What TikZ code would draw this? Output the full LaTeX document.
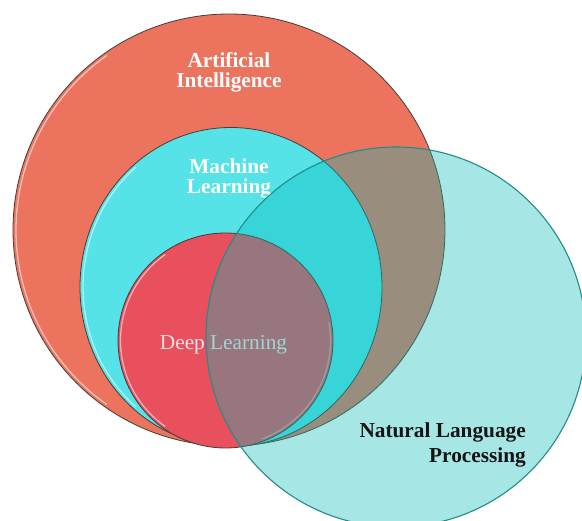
\documentclass[tikz,border=0pt]{standalone}
\usepackage{fontspec}
\setmainfont{Liberation Serif}
\definecolor{aiF}{RGB}{236,116,95}
\definecolor{mlF}{RGB}{85,227,232}
\definecolor{dlF}{RGB}{232,80,94}
\definecolor{nlpF}{RGB}{0,189,184}
\definecolor{nlpD}{RGB}{35,140,135}
\definecolor{rim}{RGB}{70,60,55}
\definecolor{dlT}{RGB}{250,226,230}
\tikzset{
  setrim/.style={draw=rim, line width=0.8pt},
  shine/.style={draw=white, line width=1.3pt, opacity=0.55},
  lbl/.style={inner sep=0pt, align=center, font=\fontsize{21.3}{20}\selectfont\bfseries, text=white},
}
\begin{document}
\begin{tikzpicture}[x=1pt,y=-1pt]
\useasboundingbox (0,0) rectangle (582,521);
\clip (0,0) rectangle (582,521);
\fill[white] (0,0) rectangle (582,521);
% Artificial Intelligence
\path[setrim, fill=aiF] (229,230) circle[radius=216pt];
\draw[shine] (229,230) ++(125:213pt) arc[start angle=125, end angle=235, radius=213pt];
% Machine Learning
\path[setrim, fill=mlF] (231,287) ellipse[x radius=151pt, y radius=159.5pt];
\draw[shine] (231,287) ++(130:148pt and 156.5pt) arc[start angle=130, end angle=230, x radius=148pt, y radius=156.5pt];
% Deep Learning
\path[setrim, fill=dlF] (225.5,340.5) circle[radius=107.5pt];
\draw[shine] (225.5,340.5) ++(125:105pt) arc[start angle=125, end angle=235, radius=105pt];
\draw[shine, opacity=0.35] (225.5,340.5) ++(-70:105pt) arc[start angle=-70, end angle=10, radius=105pt];
% labels under the NLP layer
\node[lbl] (ai) at (229,72) {Artificial\\Intelligence};
\node[lbl] (ml) at (229,178) {Machine\\Learning};
\node[lbl, font=\fontsize{21.3}{20}\selectfont, text=dlT, anchor=base] (dl) at (223.5,350) {Deep Learning};
% Natural Language Processing
\path[draw=nlpD, line width=1.1pt, fill=nlpF, fill opacity=0.35] (396,337) circle[radius=190pt];
\node[lbl, align=right, text={rgb,255:red,20;green,20;blue,20}, font=\fontsize{21.3}{25}\selectfont\bfseries, anchor=east] (nlp) at (526,444.5) {Natural Language\\Processing};
\end{tikzpicture}
\end{document}
